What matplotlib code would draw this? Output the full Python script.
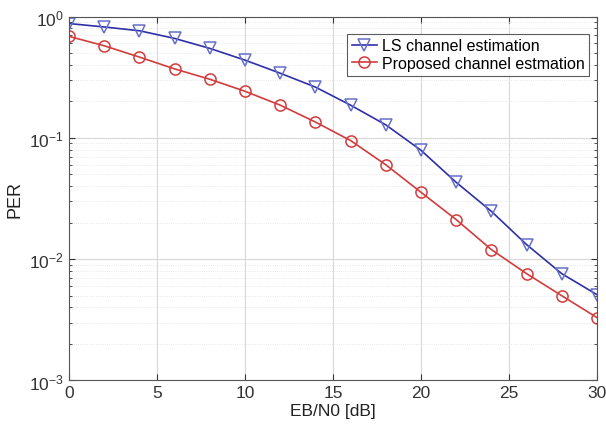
import matplotlib
matplotlib.use("Agg")
import matplotlib.pyplot as plt
from matplotlib.ticker import LogLocator, FixedLocator, NullFormatter

snr_db = [0, 2, 4, 6, 8, 10, 12, 14, 16, 18, 20, 22, 24, 26, 28, 30]
per_ls = [0.875, 0.82, 0.763, 0.66, 0.546, 0.437, 0.341, 0.262, 0.186, 0.128,
          0.079, 0.043, 0.0248, 0.0132, 0.0076, 0.0051]
per_prop = [0.686, 0.574, 0.463, 0.37, 0.304, 0.242, 0.186, 0.135, 0.095, 0.060,
            0.0356, 0.0212, 0.012, 0.0076, 0.005, 0.0033]
x_ticks = [0, 5, 10, 15, 20, 25, 30]
labels = ["LS channel estimation", "Proposed channel estmation"]

plt.rcParams['font.family'] = ['Liberation Sans', 'DejaVu Sans']

fig = plt.figure(figsize=(6.06, 4.27), dpi=100)
ax = fig.add_axes([0.1139, 0.1066, 0.8711, 0.8524])

ax.semilogy(snr_db, per_ls, color='#2f2fa8', lw=1.2, marker='v', ms=8,
            mfc='none', mec='#6670c8', mew=1.1, label=labels[0])
ax.semilogy(snr_db, per_prop, color='#d23c3c', lw=1.2, marker='o', ms=8,
            mfc='none', mec='#d23c3c', mew=1.1, label=labels[1])

ax.set_xlim(0, 30)
ax.set_ylim(1e-3, 1)
ax.xaxis.set_major_locator(FixedLocator(x_ticks))
ax.yaxis.set_major_locator(LogLocator(base=10, numticks=10))
ax.yaxis.set_minor_locator(LogLocator(base=10, subs=range(2, 10), numticks=20))
ax.yaxis.set_minor_formatter(NullFormatter())

ax.grid(True, which='major', color='#d8d8d8', lw=0.8)
ax.grid(True, which='minor', axis='y', color='#e2e2e2', lw=0.6, ls=':')

ax.tick_params(which='both', direction='in', top=True, right=True,
               labelsize=12.5, colors='#333333')
ax.tick_params(which='major', length=4)
ax.tick_params(which='minor', length=2)
for s in ax.spines.values():
    s.set_color('#555555')
    s.set_linewidth(0.8)

ax.set_xlabel('EB/N0 [dB]', fontsize=12.5, color='#222222', labelpad=2)
ax.set_ylabel('PER', fontsize=13, color='#222222', labelpad=4)

leg = ax.legend(loc='upper right', bbox_to_anchor=(0.992, 0.962), fontsize=11.5,
                frameon=True, fancybox=False, edgecolor='#333333',
                borderpad=0.3, handlelength=1.6, handletextpad=0.3,
                labelspacing=0.15, borderaxespad=0.2)
leg.get_frame().set_linewidth(0.8)

fig.savefig('out.png', dpi=100)
